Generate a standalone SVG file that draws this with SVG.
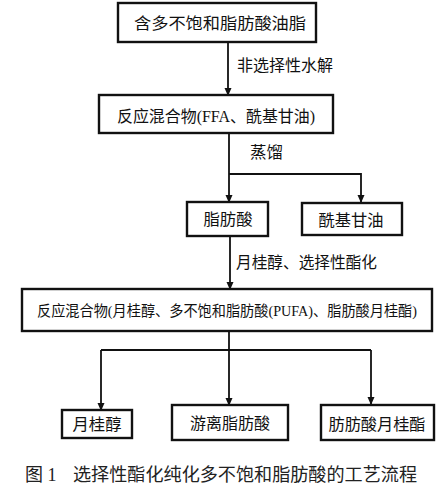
<svg xmlns="http://www.w3.org/2000/svg" width="445" height="491" viewBox="0 0 445 491">
<style>
.box{fill:#fff;stroke:#111;stroke-width:2.4}
.t{font-family:"Liberation Serif","Noto Sans CJK SC",serif;font-size:16px;fill:#111;text-anchor:middle;dominant-baseline:central}
.lbl{font-family:"Liberation Serif","Noto Sans CJK SC",serif;font-size:16px;fill:#111;dominant-baseline:central}
.ln{fill:none;stroke:#111;stroke-width:1.8}
.cap{font-family:"Liberation Serif","Noto Sans CJK SC",serif;font-size:18px;fill:#222;dominant-baseline:central}
</style>
<defs>
<marker id="arr" markerUnits="userSpaceOnUse" markerWidth="8" markerHeight="9" refX="8" refY="4" orient="auto" viewBox="0 0 9 8">
<path d="M0,0 L9,4 L0,8 Z" fill="#111"/>
</marker>
</defs>
<rect width="445" height="491" fill="#fff"/>
<g id="connectors">
<path class="ln" d="M228,42 V95" marker-end="url(#arr)"/>
<path class="ln" d="M229,133 V202" marker-end="url(#arr)"/>
<path class="ln" d="M229,174 H361 V202" marker-end="url(#arr)"/>
<path class="ln" d="M230,236 V289" marker-end="url(#arr)"/>
<path class="ln" d="M229,331 V350"/>
<path class="ln" d="M101,350 H371"/>
<path class="ln" d="M101,350 V410" marker-end="url(#arr)"/>
<path class="ln" d="M229,350 V405" marker-end="url(#arr)"/>
<path class="ln" d="M371,350 V404" marker-end="url(#arr)"/>
<text class="lbl" x="237" y="65" textLength="96" lengthAdjust="spacingAndGlyphs">非选择性水解</text>
<text class="lbl" x="250" y="152" textLength="33" lengthAdjust="spacingAndGlyphs">蒸馏</text>
<text class="lbl" x="236" y="262" textLength="141" lengthAdjust="spacingAndGlyphs">月桂醇、选择性酯化</text>
</g>
<g id="n1">
<rect class="box" x="118" y="3" width="198" height="39"/>
<text class="t" x="220" y="23" textLength="172" lengthAdjust="spacingAndGlyphs">含多不饱和脂肪酸油脂</text>
</g>
<g id="n2">
<rect class="box" x="99" y="95" width="234" height="38"/>
<text class="t" x="216" y="116" textLength="198" lengthAdjust="spacingAndGlyphs">反应混合物(FFA、酰基甘油)</text>
</g>
<g id="n3">
<rect class="box" x="187" y="202" width="81" height="34"/>
<text class="t" x="228" y="219" textLength="49" lengthAdjust="spacingAndGlyphs">脂肪酸</text>
</g>
<g id="n4">
<rect class="box" x="302" y="203" width="100" height="32"/>
<text class="t" x="351" y="220" textLength="65" lengthAdjust="spacingAndGlyphs">酰基甘油</text>
</g>
<g id="n5">
<rect class="box" x="22" y="289" width="410" height="42"/>
<text class="t" x="227" y="311" style="font-size:15px" textLength="380" lengthAdjust="spacingAndGlyphs">反应混合物(月桂醇、多不饱和脂肪酸(PUFA)、脂肪酸月桂酯)</text>
</g>
<g id="n6">
<rect class="box" x="62" y="410" width="70" height="28"/>
<text class="t" x="97" y="424" textLength="49" lengthAdjust="spacingAndGlyphs">月桂醇</text>
</g>
<g id="n7">
<rect class="box" x="172" y="405" width="116" height="35"/>
<text class="t" x="230" y="423" textLength="80" lengthAdjust="spacingAndGlyphs">游离脂肪酸</text>
</g>
<g id="n8">
<rect class="box" x="321" y="405" width="113" height="35"/>
<text class="t" x="377" y="424" textLength="97" lengthAdjust="spacingAndGlyphs">肪肪酸月桂酯</text>
</g>
<text class="cap" x="25" y="475">图 1</text>
<text class="cap" x="73" y="475" textLength="344" lengthAdjust="spacingAndGlyphs">选择性酯化纯化多不饱和脂肪酸的工艺流程</text>
</svg>
